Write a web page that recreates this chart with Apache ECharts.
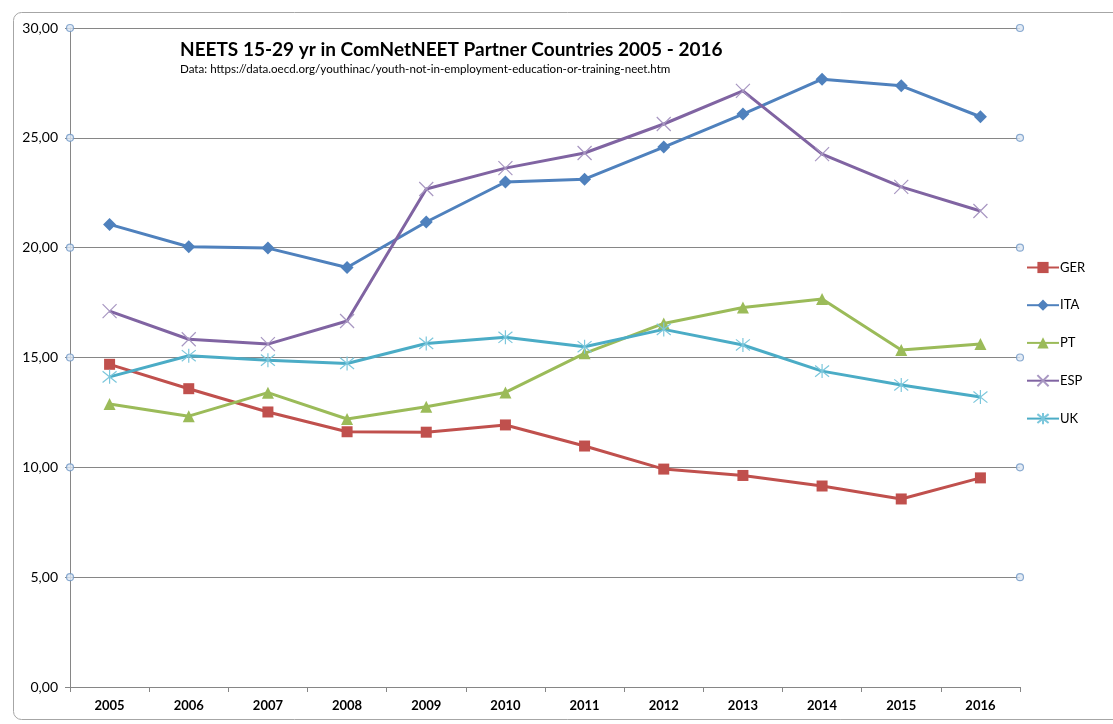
<!DOCTYPE html>
<html>
<head>
<meta charset="utf-8">
<script src="https://cdn.jsdelivr.net/npm/echarts@6/dist/echarts.min.js"></script>
<style>
html,body{margin:0;padding:0;background:#fff;}
#chart{width:1113px;height:724px;}
</style>
</head>
<body>
<div id="chart"></div>
<script>
const years = ['2005','2006','2007','2008','2009','2010','2011','2012','2013','2014','2015','2016'];
const GER = [14.69,13.58,12.52,11.62,11.60,11.93,10.97,9.92,9.63,9.15,8.56,9.52];
const ITA = [21.06,20.04,19.98,19.10,21.17,22.99,23.12,24.58,26.08,27.67,27.37,25.96];
const PT  = [12.88,12.33,13.40,12.20,12.76,13.41,15.19,16.55,17.28,17.66,15.34,15.61];
const ESP = [17.11,15.83,15.61,16.66,22.67,23.62,24.31,25.63,27.14,24.26,22.77,21.67];
const UK  = [14.12,15.08,14.88,14.73,15.64,15.92,15.49,16.28,15.57,14.38,13.75,13.20];
const yTicks = [5,10,15,20,25,30];
const titleText = 'NEETS 15-29 yr in ComNetNEET Partner Countries 2005 - 2016';
const subText = 'Data: https://data.oecd.org/youthinac/youth-not-in-employment-education-or-training-neet.htm';

const FONT = 'Lato, "Open Sans", sans-serif';
const chart = echarts.init(document.getElementById('chart'), null, {renderer:'canvas'});

function lineSeries(name, data, color, symbol, size, extra) {
  return Object.assign({
    name: name, type: 'line', data: data,
    xAxisIndex: 0, yAxisIndex: 0,
    symbol: symbol, symbolSize: size,
    showAllSymbol: true,
    lineStyle: {color: color, width: 3},
    itemStyle: {color: color},
    emphasis: {disabled: true},
    z: 3
  }, extra || {});
}

const crossPath = 'path://M0,0L10,10M10,0L0,10';
const starPath = 'path://M5,0L5,10M0,1L10,9M10,1L0,9';

const tickDots = [];
yTicks.forEach(v => { tickDots.push([0, v]); tickDots.push([1, v]); });

chart.setOption({
  animation: false,
  textStyle: {fontFamily: FONT},
  title: {
    text: titleText,
    subtext: subText,
    left: 175, top: 35,
    itemGap: 4,
    textStyle: {fontFamily: FONT, fontSize: 19, fontWeight: 'bold', color: '#000'},
    subtextStyle: {fontFamily: FONT, fontSize: 11.6, color: '#000'}
  },
  graphic: [{
    type: 'rect', silent: true, z: -1,
    shape: {x: 13.5, y: 12.5, width: 1120, height: 707, r: 8},
    style: {fill: 'none', stroke: '#a6a6a6', lineWidth: 1}
  }],
  legend: {
    orient: 'vertical',
    left: 1021, top: 256,
    itemWidth: 32, itemHeight: 14, itemGap: 24.7,
    data: ['GER','ITA','PT','ESP','UK'],
    textStyle: {fontFamily: FONT, fontSize: 13, color: '#000', padding: [0,0,0,-4]}
  },
  grid: {left: 70, right: 93, top: 28, bottom: 37, containLabel: false},
  xAxis: [{
    type: 'category', data: years, boundaryGap: true,
    axisLine: {lineStyle: {color: '#868686', width: 1}},
    axisTick: {show: true, inside: false, length: 5, lineStyle: {color: '#868686'}},
    axisLabel: {fontFamily: FONT, fontSize: 13, color: '#000', margin: 12, fontWeight: 'bold'},
    splitLine: {show: false}
  }, {
    type: 'value', min: 0, max: 1, show: false
  }],
  yAxis: {
    type: 'value', min: 0, max: 30, interval: 5,
    axisLine: {show: true, lineStyle: {color: '#868686', width: 1}},
    axisTick: {show: true, length: 5, lineStyle: {color: '#868686'}},
    axisLabel: {
      fontFamily: FONT, fontSize: 14, color: '#000', margin: 12,
      formatter: v => v.toFixed(2).replace('.', ',')
    },
    splitLine: {show: true, lineStyle: {color: '#868686', width: 1}}
  },
  series: [
    lineSeries('GER', GER, '#c0504d', 'rect', 11),
    lineSeries('ITA', ITA, '#4f81bd', 'diamond', 13),
    lineSeries('PT', PT, '#9bbb59', 'triangle', 12),
    lineSeries('ESP', ESP, '#8064a2', crossPath, 14, {
      itemStyle: {color: '#8064a2', borderColor: '#a897c2', borderWidth: 1.2}
    }),
    lineSeries('UK', UK, '#4bacc6', starPath, 14, {
      itemStyle: {color: '#4bacc6', borderColor: '#7cc7dc', borderWidth: 1.2}
    }),
    {
      name: 'ticks', type: 'scatter', xAxisIndex: 1, yAxisIndex: 0,
      data: tickDots, symbol: 'circle', symbolSize: 7, silent: true,
      itemStyle: {color: '#dce6f2', borderColor: '#6f97c6', borderWidth: 1.2},
      z: 5
    }
  ]
});
</script>
</body>
</html>
